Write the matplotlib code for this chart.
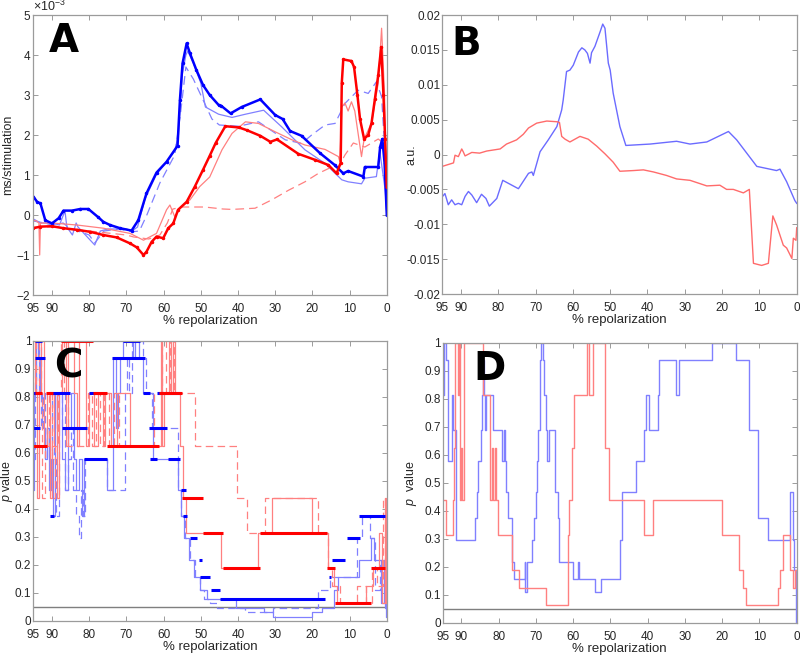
import numpy as np
import matplotlib
matplotlib.use("Agg")
import matplotlib.pyplot as plt
from matplotlib.ticker import ScalarFormatter

plt.rcParams['font.family'] = ['Liberation Sans', 'DejaVu Sans']
plt.rcParams['axes.unicode_minus'] = False
plt.rcParams['mathtext.fontset'] = 'custom'
plt.rcParams['mathtext.rm'] = 'Liberation Sans'
plt.rcParams['mathtext.it'] = 'Liberation Sans:italic'

# ---------------- data ----------------
x_ticks = [95, 90, 80, 70, 60, 50, 40, 30, 20, 10, 0]

# panel A (values in 1e-3 ms/stimulation)
a_blue_thick_pct = [95, 94, 93.1, 91.8, 90, 88.2, 86.9, 84.6, 82.4, 80.2, 77.5, 76.2, 74.4, 71.7, 68.6, 66.8,
                    64.6, 61.9, 59.2, 56.25, 55.6, 54.9, 53.8, 52.9, 51.2, 49.4, 47.6, 45.2, 44.5, 42, 39, 34,
                    30, 28, 26, 22.9, 18, 14, 11.7, 10.4, 6.3, 5.9, 2.3, 1.8, 1.2, 0.6, 0]
a_blue_thick_val = [0.46, 0.33, 0.29, -0.13, -0.21, -0.08, 0.11, 0.11, 0.15, 0.15, -0.06, -0.17, -0.25, -0.33,
                    -0.39, -0.13, 0.54, 1.06, 1.33, 1.73, 2.88, 3.79, 4.29, 4.04, 3.63, 3.25, 3.0, 2.75, 2.73,
                    2.54, 2.7, 2.89, 2.5, 2.4, 2.1, 1.98, 1.55, 1.25, 1.04, 1.1, 0.96, 1.2, 1.2, 1.7, 1.9, 1.3, 0.0]
a_blue_thin_pct = [95, 93, 90, 88, 86.5, 86, 84.5, 83.5, 83, 81.5, 80, 78.5, 77, 75, 70, 68.5, 67, 65, 62, 59.5,
                   57, 56, 55, 54, 53.5, 52, 50, 48.75, 45.2, 41.6, 38, 33.1, 28.2, 22, 16.6, 12.1, 10.4, 6.8,
                   5.9, 2.8, 1.9, 0.4, 0]
a_blue_thin_val = [-0.1, -0.2, -0.2, -0.25, 0.1, -0.3, -0.5, -0.2, -0.3, -0.45, -0.6, -0.75, -0.4, -0.35, -0.35,
                   -0.4, -0.3, 0.4, 1.0, 1.3, 1.6, 2.0, 3.5, 4.0, 4.1, 3.8, 3.3, 2.7, 2.52, 2.44, 2.52, 2.62,
                   2.2, 1.63, 1.29, 0.88, 0.83, 0.78, 0.92, 0.96, 1.6, 0.6, 0.0]
a_blue_dash_pct = [95, 92, 90, 87, 85, 83, 80, 78.5, 76, 72, 68.5, 66.5, 64.5, 61, 57, 55.5, 54, 52, 49, 47, 45,
                   39.8, 34.5, 27.3, 22.9, 20.2, 16.6, 13.9, 11.25, 7.7, 5, 2.8, 1.4, 0.45, 0]
a_blue_dash_val = [-0.15, -0.2, -0.25, -0.2, -0.35, -0.4, -0.5, -0.7, -0.4, -0.35, -0.42, -0.4, 0.0, 0.8, 1.5,
                   2.5, 3.7, 3.4, 2.8, 2.4, 2.25, 2.22, 2.33, 1.88, 1.79, 2.0, 2.25, 2.29, 2.79, 3.12, 3.04,
                   3.33, 2.96, 1.5, 0.0]
a_red_thick_pct = [95, 93.1, 90, 86.9, 83.3, 79.7, 76.2, 72.6, 69, 67.2, 65.4, 64.6, 63.2, 61.9, 60.1, 58.75,
                   57.4, 56.1, 53.8, 51.6, 49.4, 47.6, 46, 43.4, 39.8, 37.6, 34, 31.3, 29.5, 23.8, 19.3, 15.7,
                   13.5, 12.4, 12.1, 11.7, 9.5, 8.8, 7.9, 7.2, 6.1, 5, 4.1, 3.2, 2.3, 1.5, 0.9, 0.45, 0]
a_red_thick_val = [-0.33, -0.29, -0.28, -0.33, -0.37, -0.42, -0.5, -0.56, -0.71, -0.81, -1.0, -0.92, -0.67,
                   -0.54, -0.58, -0.33, -0.21, 0.13, 0.33, 0.71, 1.13, 1.48, 1.8, 2.22, 2.19, 2.12, 1.98, 1.83,
                   1.89, 1.53, 1.38, 1.25, 1.04, 1.3, 3.3, 3.89, 3.85, 3.7, 3.0, 2.4, 1.9, 2.0, 2.3, 2.9, 3.5,
                   4.2, 3.0, 1.9, 0.7]
a_red_thin_pct = [95, 94.2, 93.5, 93.3, 93.1, 90, 83.3, 76.2, 69, 65.4, 61.9, 59.2, 58.3, 57, 55.6, 52.9, 50.3,
                  47.6, 44.3, 41.6, 38, 34.5, 30, 25.5, 22, 16.6, 13, 12.6, 12.1, 11.25, 10.4, 9.5, 8.6, 6.8,
                  6.1, 4.1, 2.3, 1.4, 0.6, 0]
a_red_thin_val = [-0.13, -0.15, -0.2, -1.0, -0.2, -0.2, -0.25, -0.33, -0.46, -0.63, -0.46, 0.13, 0.25, -0.04,
                  0.17, 0.38, 0.71, 0.95, 1.63, 2.04, 2.33, 2.29, 2.08, 1.88, 1.75, 1.64, 1.46, 1.33, 2.7, 2.8,
                  2.6, 2.83, 2.6, 1.46, 1.9, 2.3, 3.3, 4.67, 3.0, 0.5]
a_red_dash_pct = [95, 90, 85, 80, 75, 70, 68, 64, 61, 59, 57.5, 55, 49, 44, 41.6, 35.4, 30.9, 26.4, 22, 18.4,
                  14.8, 13, 11.25, 9, 5.9, 2.3, 1, 0]
a_red_dash_val = [-0.3, -0.3, -0.35, -0.4, -0.45, -0.5, -0.55, -0.6, -0.5, -0.2, 0.15, 0.2, 0.2, 0.15, 0.14,
                  0.17, 0.38, 0.62, 0.83, 1.04, 1.2, 1.2, 1.5, 1.8, 1.7, 1.9, 1.8, 0.5]

# panel B (a.u.)
b_blue_pct = [95, 94.3, 93.4, 92.5, 91.6, 90.7, 89.8, 88.9, 88, 87.1, 85.8, 84.5, 83.3, 82.4, 80.4, 78.8, 74.6,
              71.9, 71, 70.6, 68.8, 66.6, 64.3, 63, 62.6, 61.7, 60.8, 59.9, 58.5, 57.6, 56.8, 56.1, 55.4, 55,
              54.1, 52.7, 52, 51.4, 50.5, 50, 49.2, 47.4, 45.8, 39.3, 32.2, 28.6, 24.1, 18.3, 16.1, 10.7, 5.4,
              4.5, 2.7, 0.5, 0]
b_blue_val = [-0.00605, -0.0056, -0.0072, -0.0065, -0.0072, -0.007, -0.0072, -0.006, -0.0053, -0.0058,
              -0.0069, -0.0057, -0.0063, -0.0074, -0.0063, -0.0037, -0.0049, -0.0027, -0.0025, -0.003, 0.0004,
              0.0021, 0.004, 0.0064, 0.0078, 0.0119, 0.0121, 0.0128, 0.0147, 0.0153, 0.015, 0.0145, 0.0131,
              0.0146, 0.0155, 0.0176, 0.0187, 0.0181, 0.0131, 0.0121, 0.0088, 0.004, 0.0013, 0.0015, 0.0019,
              0.0015, 0.0018, 0.0033, 0.0021, -0.0017, -0.0023, -0.0021, -0.0039, -0.0066, -0.007]
b_red_pct = [95, 92, 91.6, 90.7, 89.8, 89.4, 88.9, 87.1, 85, 83.1, 79.5, 77.8, 75.1, 73.3, 71.9, 69.7, 67,
             64.3, 63.6, 63, 62.1, 60.8, 58.1, 55.9, 53.6, 51.4, 49.2, 47.4, 43.8, 41.1, 38.4, 34.9, 32.2,
             28.6, 24.1, 20.6, 18.8, 17, 14.3, 12.7, 11.6, 9.4, 7.6, 6.4, 5.4, 3.6, 2.7, 1.3, 0.9, 0.2, 0]
b_red_val = [-0.0017, -0.0012, -0.0001, -0.0003, 0.0008, 0.0004, -0.0002, 0.0003, 0.0002, 0.0005, 0.0008,
             0.0015, 0.0021, 0.0029, 0.0038, 0.0045, 0.0048, 0.0047, 0.0046, 0.0026, 0.0022, 0.0018, 0.0026,
             0.0022, 0.0012, 0.0001, -0.0011, -0.0024, -0.0023, -0.0022, -0.0025, -0.003, -0.0035, -0.0037,
             -0.0045, -0.0044, -0.005, -0.005, -0.0055, -0.005, -0.0156, -0.0159, -0.0156, -0.0088, -0.0101,
             -0.013, -0.0134, -0.0149, -0.012, -0.0123, -0.0105]

# panel C (p values), thick series drawn as flat runs
c_blue_thick_lvl = [1.0, 0.9375, 0.8125, 0.8125, 0.6875, 0.6875, 0.375, 0.5781, 0.8125, 0.9375, 1.0, 0.8125,
                    0.6875, 0.5781, 0.8125, 0.5781, 0.4688, 0.375, 0.2969, 0.2188, 0.1563, 0.1094, 0.0781,
                    0.1563, 0.2188, 0.2969, 0.375]
c_blue_thick_from = [94.5, 94.5, 95, 90.9, 95, 87.3, 90.4, 81.5, 80.0, 73.9, 70.8, 65.4, 64.0, 63.6, 61.9,
                     58.7, 55.2, 54.7, 52.9, 50.6, 50.2, 47.2, 44.8, 15.6, 14.6, 10.8, 7.4]
c_blue_thick_to = [92.7, 91.8, 93.2, 85.1, 93.2, 80.6, 89.5, 75.3, 77.5, 65.0, 66.3, 63.7, 59.2, 61.8, 55.6,
                   55.6, 54.0, 53.8, 50.9, 49.7, 47.4, 44.8, 16.6, 15.0, 11.3, 7.2, 0.4]
c_red_thick_lvl = [0.625, 0.8125, 0.8125, 1.0, 0.8125, 0.625, 0.8125, 0.4375, 0.3125, 0.1875, 0.3125, 0.1875,
                   0.0625, 0.1875]
c_red_thick_from = [95, 94.6, 91.5, 87.6, 78.9, 75.3, 61.3, 55.1, 49.3, 43.9, 34.0, 16.0, 13.8, 4.3]
c_red_thick_to = [91.4, 92.8, 89.8, 78.9, 75.3, 61.3, 55.1, 49.3, 43.9, 34.0, 16.0, 13.8, 4.3, 0.6]

c_blue_sol_pct = [95, 94.7, 94.4, 93.8, 93.2, 92.6, 92.0, 91.4, 90.8, 90.2, 89.6, 89.2, 88.6, 88.0, 87.2, 86.5,
                  85.8, 85.0, 84.2, 83.5, 82.8, 82.0, 81.5, 75.3, 73.5, 72.8, 72.2, 71.6, 70.8, 68.2, 67.6,
                  66.5, 65.4, 62.8, 56.0, 55.2, 54.4, 53.2, 51.8, 50.2, 48.4, 40.5, 33.0, 30.5, 20.0, 17.4,
                  14.2, 13.2, 7.5, 4.2, 3.4, 1.6, 0.8, 0.2, 0]
c_blue_sol_val = [0.4688, 0.8125, 1.0, 0.9375, 0.8125, 0.6875, 0.5781, 0.6875, 0.4688, 0.5781, 0.375, 0.8125,
                  0.6875, 0.8125, 0.5781, 0.4688, 0.6875, 0.8125, 0.5781, 0.4688, 0.5781, 0.375, 0.5781,
                  0.4688, 0.9375, 0.6875, 0.8125, 0.9375, 1.0, 0.9375, 1.0, 0.9375, 0.8125, 0.5781, 0.4688,
                  0.375, 0.2969, 0.2188, 0.1563, 0.1094, 0.0781, 0.0469, 0.0313, 0.0156, 0.0313, 0.0469,
                  0.1094, 0.1563, 0.2188, 0.2969, 0.2188, 0.0625, 0.2188, 0.0156, 0.0156]
c_blue_dash_pct = [95, 94.6, 94.2, 93.6, 93.0, 92.4, 91.8, 91.2, 90.6, 90.0, 89.4, 88.8, 88.2, 87.4, 86.6,
                   85.8, 85.0, 84.3, 83.5, 82.8, 82.2, 81.6, 81.0, 75.3, 70.4, 69.8, 69.2, 68.5, 65.5, 64.8,
                   63.0, 57.5, 56.2, 55.3, 54.3, 53.0, 51.5, 50.3, 49.0, 47.5, 45.7, 38.0, 30.5, 25.0, 18.5,
                   15.2, 13.5, 8.0, 6.8, 4.5, 3.3, 1.8, 0.6, 0]
c_blue_dash_val = [0.5781, 0.9375, 0.8125, 1.0, 0.6875, 0.8125, 0.5781, 0.6875, 0.4688, 0.8125, 0.5781,
                   0.375, 0.6875, 0.8125, 0.4688, 0.5781, 0.6875, 0.4688, 0.375, 0.2969, 0.4688, 0.375,
                   0.5781, 0.4688, 0.8125, 0.9375, 0.8125, 1.0, 0.9375, 0.8125, 0.6875, 0.6875, 0.4688,
                   0.375, 0.2969, 0.2188, 0.1563, 0.1094, 0.0781, 0.0625, 0.0469, 0.0313, 0.0469, 0.0469,
                   0.1094, 0.1563, 0.1563, 0.2969, 0.375, 0.2969, 0.1094, 0.2188, 0.0469, 0.0469]
c_red_sol_pct = [95, 94.5, 94.1, 93.6, 93.0, 92.2, 91.2, 90.6, 90.1, 89.4, 88.6, 88.0, 87.2, 86.2, 85.6, 84.2,
                 83.2, 82.6, 80.8, 80.0, 78.6, 77.6, 76.4, 75.8, 74.2, 72.6, 69.0, 60.8, 60.3, 59.8, 58.6,
                 58.1, 57.6, 57.0, 55.6, 54.9, 53.9, 44.5, 34.5, 30.9, 20.2, 15.7, 14.3, 13.5, 5.6, 3.6, 2.1,
                 1.2, 0.5, 0.2, 0]
c_red_sol_val = [1.0, 0.8125, 0.4375, 0.8125, 1.0, 0.625, 0.8125, 0.4375, 0.625, 0.8125, 0.4375, 0.8125, 1.0,
                 0.625, 1.0, 0.8125, 0.625, 1.0, 0.625, 0.8125, 0.625, 0.8125, 0.625, 0.8125, 0.625, 0.8125,
                 0.625, 1.0, 0.625, 0.8125, 1.0, 0.8125, 1.0, 0.8125, 0.625, 0.4375, 0.3125, 0.1875, 0.3125,
                 0.4375, 0.3125, 0.1875, 0.125, 0.0625, 0.125, 0.1875, 0.3125, 0.0625, 0.4375, 0.0625, 0.0625]
c_red_dash_pct = [95, 94.3, 93.5, 92.8, 91.8, 90.9, 90.0, 89.2, 88.3, 87.5, 86.7, 85.8, 84.2, 80.2, 79.3, 78.1,
                  77.0, 75.9, 74.6, 73.3, 72.0, 62.5, 60.4, 59.4, 58.2, 57.2, 51.5, 40.3, 37.7, 32.7, 18.4,
                  15.7, 14.8, 12.5, 8.0, 5.5, 4.0, 2.5, 1.0, 0.4, 0]
c_red_dash_val = [0.8125, 1.0, 0.8125, 0.4375, 0.625, 0.8125, 0.4375, 0.625, 0.8125, 1.0, 0.8125, 0.625,
                  0.625, 0.8125, 0.625, 0.8125, 0.625, 0.8125, 0.625, 0.8125, 0.625, 0.8125, 1.0, 0.8125, 1.0,
                  0.8125, 0.625, 0.4375, 0.3125, 0.4375, 0.3125, 0.1875, 0.125, 0.0625, 0.125, 0.0625,
                  0.1875, 0.125, 0.4375, 0.0625, 0.0625]

# panel D (p values)
d_blue_pct = [95, 94.6, 94.1, 93.6, 92.6, 92.2, 91.5, 86.3, 85.9, 85.4, 84.8, 84.4, 84.1, 83.9, 83.6, 83.3,
              81.5, 79.2, 78.6, 78.3, 78.0, 77.6, 76.4, 75.9, 73.0, 72.8, 72.5, 72.0, 71.0, 70.5, 70.0, 69.6,
              69.3, 69.0, 68.8, 68.6, 68.1, 67.8, 67.4, 66.9, 66.6, 66.2, 65.0, 64.0, 63.7, 60.0, 58.8, 58.5,
              58.0, 54.1, 52.5, 47.4, 47.0, 46.8, 43.2, 41.0, 40.5, 39.7, 37.1, 36.9, 32.4, 31.7, 22.7, 16.2,
              12.7, 10.3, 7.6, 1.8, 1.0, 0.6, 0.3, 0]
d_blue_val = [0.8125, 1.0, 0.9375, 0.5781, 0.8125, 0.6875, 0.2969, 0.375, 0.4688, 0.5781, 0.6875, 0.8125,
              0.9375, 0.8125, 0.6875, 0.8125, 0.6875, 0.5781, 0.6875, 0.5781, 0.4688, 0.375, 0.2188, 0.1563,
              0.2188, 0.1094, 0.2188, 0.2188, 0.2969, 0.375, 0.4688, 0.5781, 0.6875, 0.8125, 0.9375, 1.0,
              0.9375, 0.8125, 0.6875, 0.5781, 0.6875, 0.6875, 0.4688, 0.375, 0.2188, 0.1563, 0.2188, 0.1563,
              0.1563, 0.1094, 0.1563, 0.2969, 0.375, 0.4688, 0.5781, 0.6875, 0.8125, 0.6875, 0.8125, 0.9375,
              0.8125, 0.9375, 1.0, 0.9375, 0.6875, 0.375, 0.2969, 0.4688, 0.2969, 0.1875, 0.0, 0.0]
d_red_pct = [95, 94.2, 92.2, 92.0, 91.7, 91.0, 90.7, 90.4, 90.0, 89.7, 89.3, 84.2, 82.2, 81.7, 81.4, 81.0,
             80.6, 80.1, 76.5, 74.6, 67.3, 61.3, 61.0, 60.4, 59.8, 59.0, 56.3, 55.7, 54.6, 51.4, 50.5, 41.0,
             38.7, 20.1, 15.6, 14.5, 13.6, 5.0, 4.5, 3.6, 1.8, 1.0, 0.4, 0]
d_red_val = [0.4375, 0.3125, 0.4375, 0.625, 1.0, 0.8125, 1.0, 0.4375, 0.625, 0.4375, 1.0, 0.8125, 0.4375,
             0.625, 0.4375, 0.625, 0.4375, 0.3125, 0.1875, 0.125, 0.0625, 0.3125, 0.4375, 0.625, 0.8125,
             0.8125, 1.0, 0.8125, 1.0, 0.625, 0.4375, 0.3125, 0.4375, 0.3125, 0.1875, 0.125, 0.0625, 0.125,
             0.1875, 0.3125, 0.1875, 0.125, 0.1875, 0.125]

p_ticks = [0, 0.1, 0.2, 0.3, 0.4, 0.5, 0.6, 0.7, 0.8, 0.9, 1]
p_labels = ['0', '0.1', '0.2', '0.3', '0.4', '0.5', '0.6', '0.7', '0.8', '0.9', '1']
b_ticks = [-0.02, -0.015, -0.01, -0.005, 0, 0.005, 0.01, 0.015, 0.02]
b_labels = ['-0.02', '-0.015', '-0.01', '-0.005', '0', '0.005', '0.01', '0.015', '0.02']
sig_level = 0.05

# ---------------- styling ----------------
BLUE = (0, 0, 1)
RED = (1, 0, 0)
LBLUE = (0.5, 0.5, 1)
LRED = (1, 0.5, 0.5)
FRAME = '#9b9b9b'
TXT = '#262626'


def style_axes(ax, letter, lx, ly, ylab, ylab_x):
    ax.set_xlim(95, 0)
    ax.set_xticks(x_ticks)
    ax.set_xticklabels([str(t) for t in x_ticks])
    ax.tick_params(direction='in', top=True, right=True, length=3.5, width=0.7, color=FRAME,
                   labelcolor=TXT, labelsize=8.5)
    ax.tick_params(axis='x', pad=5.5)
    ax.tick_params(axis='y', pad=1.5)
    for s in ax.spines.values():
        s.set_color(FRAME)
        s.set_linewidth(0.9)
    ax.set_xlabel('% repolarization', fontsize=9.5, color=TXT, labelpad=0)
    ax.set_ylabel(ylab, fontsize=9, color=TXT)
    ax.yaxis.set_label_coords(ylab_x, 0.5)
    ax.text(lx, ly, letter, transform=ax.transAxes, fontsize=28, fontweight='black',
            family='DejaVu Sans', color='black', va='baseline', ha='left')


fig = plt.figure(figsize=(8, 6.56), dpi=100)
axA = fig.add_axes([0.0417, 0.5503, 0.4418, 0.4268])
axB = fig.add_axes([0.5529, 0.5518, 0.4430, 0.4253])
axC = fig.add_axes([0.0417, 0.0534, 0.4418, 0.4268])
axD = fig.add_axes([0.5534, 0.0504, 0.4425, 0.4268])

# --- A ---
k = 1e-3
axA.plot(a_blue_thin_pct, np.array(a_blue_thin_val) * k, color=LBLUE, lw=0.9)
axA.plot(a_blue_dash_pct, np.array(a_blue_dash_val) * k, color=LBLUE, lw=0.9, dashes=(7, 4))
axA.plot(a_red_thin_pct, np.array(a_red_thin_val) * k, color=LRED, lw=0.9)
axA.plot(a_red_dash_pct, np.array(a_red_dash_val) * k, color=LRED, lw=0.9, dashes=(7, 4))
axA.plot(a_blue_thick_pct, np.array(a_blue_thick_val) * k, color=BLUE, lw=1.8, marker='.', ms=3)
axA.plot(a_red_thick_pct, np.array(a_red_thick_val) * k, color=RED, lw=1.8, marker='.', ms=3)
axA.set_ylim(-2e-3, 5e-3)
axA.set_yticks(np.arange(-2, 6) * k)
fmt = ScalarFormatter(useMathText=True)
fmt.set_powerlimits((0, 0))
axA.yaxis.set_major_formatter(fmt)
axA.yaxis.get_offset_text().set_fontsize(9)
axA.yaxis.get_offset_text().set_color(TXT)
style_axes(axA, 'A', 0.045, 0.868, 'ms/stimulation', -0.053)

# --- B ---
axB.plot(b_blue_pct, b_blue_val, color=(0.42, 0.42, 1), lw=1)
axB.plot(b_red_pct, b_red_val, color=(1, 0.42, 0.42), lw=1)
axB.set_ylim(-0.02, 0.02)
axB.set_yticks(b_ticks)
axB.set_yticklabels(b_labels)
style_axes(axB, 'B', 0.025, 0.857, 'a.u.', -0.071)

# --- C ---
axC.axhline(sig_level, color='#7f7f7f', lw=1)
axC.plot(c_blue_sol_pct, c_blue_sol_val, color=LBLUE, lw=0.9, drawstyle='steps-post')
axC.plot(c_blue_dash_pct, c_blue_dash_val, color=LBLUE, lw=0.9, dashes=(6, 3.5), drawstyle='steps-post')
axC.plot(c_red_sol_pct, c_red_sol_val, color=LRED, lw=0.9, drawstyle='steps-post')
axC.plot(c_red_dash_pct, c_red_dash_val, color=LRED, lw=0.9, dashes=(6, 3.5), drawstyle='steps-post')
axC.hlines(c_blue_thick_lvl, c_blue_thick_from, c_blue_thick_to, colors=[BLUE], lw=2.2)
axC.hlines(c_red_thick_lvl, c_red_thick_from, c_red_thick_to, colors=[RED], lw=2.2)
axC.set_ylim(0, 1)
axC.set_yticks(p_ticks)
axC.set_yticklabels(p_labels)
style_axes(axC, 'C', 0.058, 0.868, '$p$ value', -0.053)

# --- D ---
axD.axhline(sig_level, color='#7f7f7f', lw=1)
axD.plot(d_blue_pct, d_blue_val, color=LBLUE, lw=1, drawstyle='steps-post')
axD.plot(d_red_pct, d_red_val, color=LRED, lw=1, drawstyle='steps-post')
axD.set_ylim(0, 1)
axD.set_yticks(p_ticks)
axD.set_yticklabels(p_labels)
style_axes(axD, 'D', 0.086, 0.868, '$p$  value', -0.067)

fig.savefig('out.png', dpi=100)
